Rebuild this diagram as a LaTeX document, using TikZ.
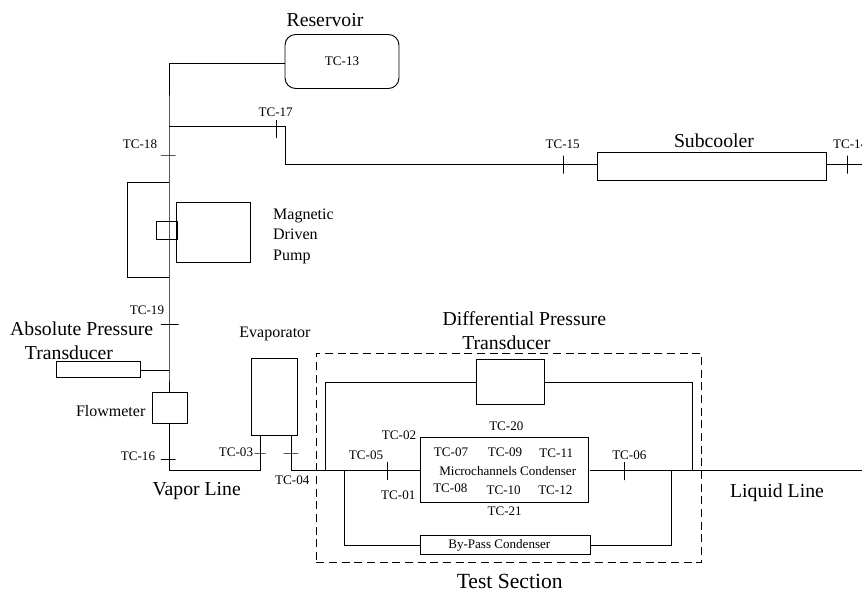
\documentclass[tikz,border=0pt]{standalone}
\usepackage{fontspec}
\setmainfont{Liberation Serif}
\usetikzlibrary{positioning}
\tikzset{
    unit/.style={draw, inner sep=0pt, outer sep=0pt},
    vtick/.style={draw, inner sep=0pt, outer sep=0pt, minimum width=0pt, minimum height=13.5pt},
    htick/.style={draw, inner sep=0pt, outer sep=0pt, minimum height=0pt, minimum width=11pt},
    tc/.style={font=\fontsize{9.8}{11}\selectfont, inner sep=0pt},
    mid/.style={font=\fontsize{12}{15.4}\selectfont, inner sep=0pt},
    big/.style={font=\fontsize{14.8}{17}\selectfont, inner sep=0pt}
}
\begin{document}
\begin{tikzpicture}[x=0.75pt, y=-0.75pt, line width=0.7pt]
        \useasboundingbox (0,0) rectangle (862,592);
        % units
        \node (res) [unit, rounded corners=8pt, minimum width=85.5pt, minimum height=40.5pt, tc] at (342,61.5) {TC-13};
        \node (pump) [unit, minimum width=55.2pt, minimum height=45.5pt] at (213.5,232.3) {};
        \node (coup) [unit, minimum width=15.75pt, minimum height=13.7pt] at (166.8,230.2) {};
        \node (abs) [unit, minimum width=63pt, minimum height=12.2pt] at (98,369.8) {};
        \node (flow) [unit, minimum width=26pt, minimum height=23.25pt] at (169.7,408.2) {};
        \node (evap) [unit, minimum width=34.2pt, minimum height=57.5pt] at (274.5,397) {};
        \node (dp) [unit, minimum width=51.2pt, minimum height=33.5pt] at (510.2,382) {};
        \node (micro) [unit, minimum width=126.2pt, minimum height=49pt] at (504.2,470) {};
        \node (bypass) [unit, minimum width=127.7pt, minimum height=14.5pt] at (505.2,545) {};
        \node (sub) [unit, minimum width=172pt, minimum height=21.2pt] at (712,166.2) {};
        \node (test) [unit, dash pattern=on 6pt off 3.5pt, minimum width=288.75pt, minimum height=157pt] at (508.8,458) {};
        % junctions
        \coordinate (resin) at (285,63.3);
        \coordinate (jtop) at (169,126.7);
        \coordinate (jturn) at (285,164.7);
        \coordinate (subin) at (597.3,164.7);
        \coordinate (subout) at (826.7,164.7);
        \coordinate (endr) at (862,164.7);
        \coordinate (jp1) at (169,182.7);
        \coordinate (jp2) at (169,277.3);
        \coordinate (jabs) at (169,370.3);
        \coordinate (absout) at (140,370.3);
        \coordinate (flowin) at (169,392.7);
        \coordinate (flowout) at (169,423.7);
        \coordinate (jvap) at (169,470);
        \coordinate (evapa) at (260,435.3);
        \coordinate (evapb) at (291.7,435.3);
        \coordinate (jevap) at (291.7,470);
        \coordinate (jdp) at (325,470);
        \coordinate (jby) at (344.3,470);
        \coordinate (microin) at (420,470);
        \coordinate (microout) at (590,470);
        \coordinate (jby2) at (671.3,470);
        \coordinate (jdp2) at (692,470);
        \coordinate (endl) at (862,470);
        \coordinate (pumpl) at (127.7,230);
        % ticks
        \node (t17) [vtick] at (276.3,129) {};
        \node (t15) [vtick] at (563.3,164.7) {};
        \node (t14) [vtick] at (847.3,164.7) {};
        \node (t18) [htick] at (168.3,155) {};
        \node (t19) [htick, minimum width=13.3pt] at (169.8,324.7) {};
        \node (t16) [htick] at (168.3,459.7) {};
        \node (t03) [htick, minimum width=8.2pt] at (260.2,453) {};
        \node (t04) [htick] at (291,453) {};
        \node (t05) [vtick] at (387.3,470.8) {};
        \node (t06) [vtick] at (624,471) {};
        % pipes
        \draw (resin) -| (jtop) -- (jp1) -- (jp2) -- (jabs) -- (flowin);
        \draw (jtop) -| (jturn) -- (subin);
        \draw (subout) -- (endr);
        \draw (jp1) -| (pumpl) |- (jp2);
        \draw (absout) -- (jabs);
        \draw (flowout) -- (jvap) -| (evapa);
        \draw (evapb) -- (jevap) -- (microin);
        \draw (jdp) |- (dp.west);
        \draw (dp.east) -| (jdp2);
        \draw (jby) |- (bypass.west);
        \draw (bypass.east) -| (jby2);
        \draw (microout) -- (endl);
        % labels
        \node (lres) [big] at (325,20) {Reservoir};
        \node (lsub) [big] at (714,140.5) {Subcooler};
        \node (lpump) [mid, align=left, anchor=west] at (272.7,236) {Magnetic\\Driven\\Pump};
        \node (labs) [big] at (81.7,328.7) {Absolute Pressure};
        \node (labs2) [big] at (69,352.7) {Transducer};
        \node (lflow) [mid] at (110.7,411) {Flowmeter};
        \node (levap) [mid] at (275,333.7) {Evaporator};
        \node (lvap) [big] at (196.7,491.3) {Vapor Line};
        \node (lliq) [big] at (777,492.7) {Liquid Line};
        \node (ldp) [big] at (524.3,319) {Differential Pressure};
        \node (ldp2) [big] at (506.3,342.7) {Transducer};
        \node (ltest) [big, font=\fontsize{16.2}{18}\selectfont] at (509.7,581) {Test Section};
        \node (lmicro) [tc] at (507.7,470.7) {Microchannels Condenser};
        \node (lby) [tc] at (499.3,545.7) {By-Pass Condenser};
        \node (l17) [tc] at (275.7,112.7) {TC-17};
        \node (l15) [tc] at (562.7,144.3) {TC-15};
        \node (l14) [tc, anchor=west] at (832.7,144.3) {TC-14};
        \node (l18) [tc] at (140,144) {TC-18};
        \node (l19) [tc] at (147,310) {TC-19};
        \node (l16) [tc] at (138,456.3) {TC-16};
        \node (l03) [tc] at (236,452.3) {TC-03};
        \node (l04) [tc] at (292.3,480) {TC-04};
        \node (l05) [tc] at (366,455.7) {TC-05};
        \node (l02) [tc] at (399,435) {TC-02};
        \node (l01) [tc] at (398.3,495) {TC-01};
        \node (l06) [tc] at (629.3,455.7) {TC-06};
        \node (l20) [tc] at (506.3,426.3) {TC-20};
        \node (l21) [tc] at (504.7,511.3) {TC-21};
        \node (l07) [tc] at (451,452.3) {TC-07};
        \node (l09) [tc] at (505,452.3) {TC-09};
        \node (l11) [tc] at (556.3,453) {TC-11};
        \node (l08) [tc] at (450.3,488.7) {TC-08};
        \node (l10) [tc] at (503.7,490.7) {TC-10};
        \node (l12) [tc] at (555.3,490.7) {TC-12};
    \end{tikzpicture}
\end{document}
